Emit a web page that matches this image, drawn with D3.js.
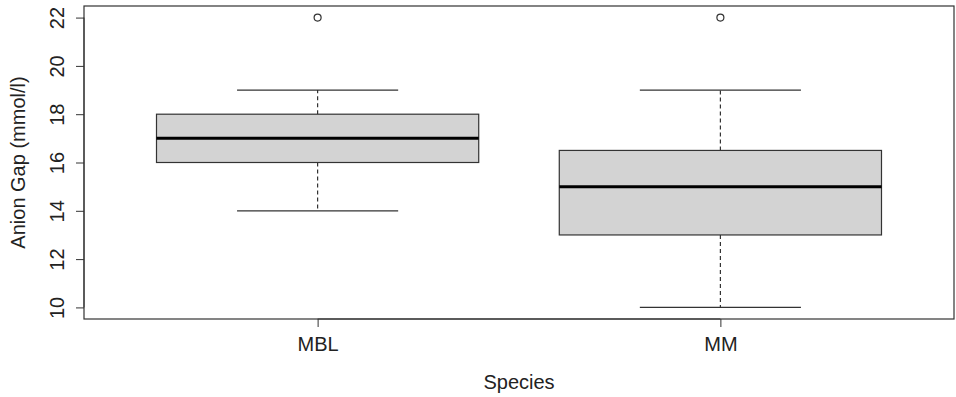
<!DOCTYPE html>
<html lang="en">
<head>
<meta charset="UTF-8">
<title>Anion Gap by Species</title>
<script src="https://d3js.org/d3.v7.min.js"></script>
<style>
  body { margin: 0; background: #fff; }
  text { font-family: "Liberation Sans", Arial, sans-serif; fill: #222; }
  .frame { fill: none; stroke: #333; stroke-width: 1.2; }
</style>
</head>
<body>
<script>
  // box statistics
  const species = ["MBL", "MM"];
  const lowerWhisker = [14, 10];
  const q1 = [16, 13];
  const median = [17, 15];
  const q3 = [18, 16.5];
  const upperWhisker = [19, 19];
  const outliers = [[22], [22]];
  const yTicks = [10, 12, 14, 16, 18, 20, 22];

  const width = 956;
  const height = 397;
  const plot = { left: 84, right: 954, top: 6, bottom: 319 };

  const svg = d3.select("body").append("svg")
    .attr("width", width)
    .attr("height", height);

  const x = d3.scaleLinear().domain([0.42, 2.58]).range([plot.left, plot.right]);
  const y = d3.scaleLinear().domain([9.52, 22.48]).range([plot.bottom, plot.top]);

  const boxes = species.map((s, i) => ({
    name: s, pos: i + 1,
    lo: lowerWhisker[i], q1: q1[i], med: median[i], q3: q3[i], hi: upperWhisker[i],
    out: outliers[i]
  }));

  const g = svg.selectAll(".box").data(boxes).enter().append("g").attr("class", "box");

  // dashed whiskers
  g.append("line")
    .attr("x1", d => x(d.pos)).attr("x2", d => x(d.pos))
    .attr("y1", d => y(d.q3)).attr("y2", d => y(d.hi))
    .attr("stroke", "#333").attr("stroke-width", 1.2).attr("stroke-dasharray", "4,3");
  g.append("line")
    .attr("x1", d => x(d.pos)).attr("x2", d => x(d.pos))
    .attr("y1", d => y(d.q1)).attr("y2", d => y(d.lo))
    .attr("stroke", "#333").attr("stroke-width", 1.2).attr("stroke-dasharray", "4,3");

  // whisker caps
  ["lo", "hi"].forEach(k => {
    g.append("line")
      .attr("x1", d => x(d.pos - 0.2)).attr("x2", d => x(d.pos + 0.2))
      .attr("y1", d => y(d[k])).attr("y2", d => y(d[k]))
      .attr("stroke", "#333").attr("stroke-width", 1.2);
  });

  // box
  g.append("rect")
    .attr("x", d => x(d.pos - 0.4))
    .attr("width", d => x(d.pos + 0.4) - x(d.pos - 0.4))
    .attr("y", d => y(d.q3))
    .attr("height", d => y(d.q1) - y(d.q3))
    .attr("fill", "#d3d3d3")
    .attr("stroke", "#333").attr("stroke-width", 1.2);

  // median
  g.append("line")
    .attr("x1", d => x(d.pos - 0.4)).attr("x2", d => x(d.pos + 0.4))
    .attr("y1", d => y(d.med)).attr("y2", d => y(d.med))
    .attr("stroke", "#000").attr("stroke-width", 3);

  // outliers
  g.selectAll("circle").data(d => d.out.map(v => ({ pos: d.pos, v }))).enter()
    .append("circle")
    .attr("cx", d => x(d.pos)).attr("cy", d => y(d.v))
    .attr("r", 3.5)
    .attr("fill", "none").attr("stroke", "#333").attr("stroke-width", 1.2);

  // plot frame
  svg.append("rect").attr("class", "frame")
    .attr("x", plot.left).attr("y", plot.top)
    .attr("width", plot.right - plot.left).attr("height", plot.bottom - plot.top);

  // y axis
  const yAxis = svg.append("g")
    .attr("transform", `translate(${plot.left},0)`)
    .call(d3.axisLeft(y).tickValues(yTicks).tickSize(8).tickPadding(0).tickFormat(d3.format("d")));
  yAxis.select(".domain").attr("stroke", "#333")
    .attr("d", `M0,${y(10)}V${y(22)}`);
  yAxis.selectAll(".tick line").attr("stroke", "#333");
  yAxis.selectAll(".tick text")
    .attr("dy", null)
    .attr("x", 0).attr("y", -27)
    .attr("transform", "rotate(-90)")
    .attr("text-anchor", "middle")
    .attr("dominant-baseline", "central")
    .style("font-size", "20px");

  // x axis
  const xAxis = svg.append("g")
    .attr("transform", `translate(0,${plot.bottom})`)
    .call(d3.axisBottom(x).tickValues([1, 2]).tickSize(8).tickPadding(10)
      .tickFormat(d => species[d - 1]));
  xAxis.select(".domain").attr("stroke", "#333")
    .attr("d", `M${x(1)},0H${x(2)}`);
  xAxis.selectAll(".tick line").attr("stroke", "#333");
  xAxis.selectAll(".tick text").style("font-size", "20px").attr("fill", "#222");

  // axis titles
  svg.append("text")
    .attr("x", (plot.left + plot.right) / 2)
    .attr("y", 389)
    .attr("text-anchor", "middle")
    .style("font-size", "20px")
    .text("Species");

  svg.append("text")
    .attr("transform", `translate(25,${(plot.top + plot.bottom) / 2}) rotate(-90)`)
    .attr("text-anchor", "middle")
    .style("font-size", "20px")
    .text("Anion Gap (mmol/l)");
</script>
</body>
</html>
